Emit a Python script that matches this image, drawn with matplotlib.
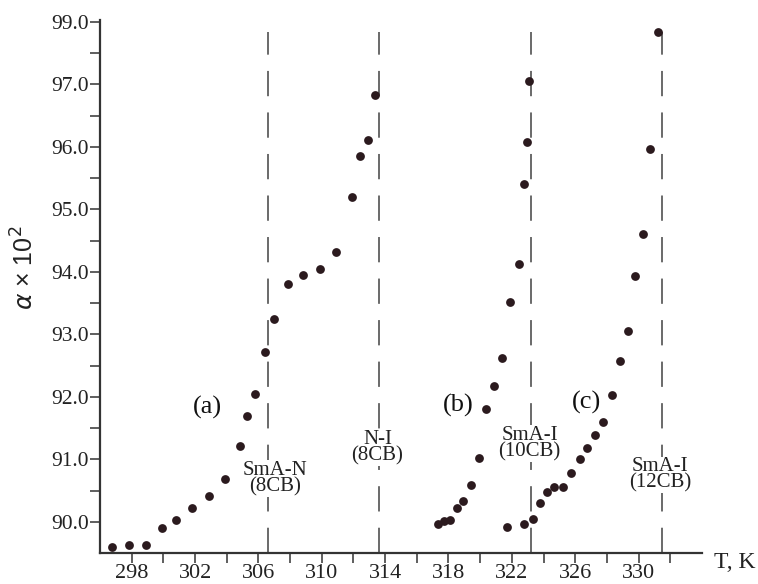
import matplotlib
matplotlib.use("Agg")
import matplotlib.pyplot as plt
import numpy as np

# ---------------- data ----------------
T_a = [296.77, 297.80, 298.89, 299.94, 300.78, 301.81, 302.89, 303.90, 304.81, 305.29,
       305.80, 306.39, 306.96, 307.89, 308.83, 309.89, 310.88, 311.92, 312.44, 312.90, 313.39]
alpha_a = [89.60, 89.63, 89.63, 89.90, 90.02, 90.22, 90.41, 90.69, 91.22, 91.69,
           92.04, 92.72, 93.25, 93.80, 93.95, 94.04, 94.32, 95.20, 95.85, 96.11, 96.83]

T_b = [317.31, 317.71, 318.07, 318.53, 318.89, 319.44, 319.92, 320.39, 320.90, 321.40,
       321.86, 322.43, 322.75, 322.96, 323.09]
alpha_b = [89.97, 90.01, 90.03, 90.22, 90.34, 90.59, 91.02, 91.81, 92.18, 92.62,
           93.51, 94.12, 95.40, 96.07, 97.06]

T_c = [321.69, 322.76, 323.34, 323.79, 324.19, 324.63, 325.24, 325.72, 326.29, 326.75,
       327.28, 327.73, 328.30, 328.82, 329.33, 329.79, 330.30, 330.70, 331.21]
alpha_c = [89.92, 89.97, 90.05, 90.30, 90.47, 90.56, 90.56, 90.78, 91.00, 91.18,
           91.39, 91.59, 92.03, 92.57, 93.05, 93.93, 94.61, 95.97, 97.84]

transition_T = [306.6, 313.6, 323.2, 331.5]
transition_labels = ["SmA-N\n(8CB)", "N-I\n(8CB)", "SmA-I\n(10CB)", "SmA-I\n(12CB)"]

series_labels = ["(a)", "(b)", "(c)"]

x_major = [298, 302, 306, 310, 314, 318, 322, 326, 330]
y_major = [90, 91, 92, 93, 94, 95, 96, 97, 98]
y_major_labels = ["90.0", "91.0", "92.0", "93.0", "94.0", "95.0", "96.0", "97.0", "99.0"]

# ---------------- plot ----------------
serif = ["Liberation Serif", "DejaVu Serif"]
plt.rcParams["font.family"] = serif

fig = plt.figure(figsize=(7.58, 5.84), dpi=100)
ax = fig.add_axes([0.132, 0.0531, 0.794, 0.9127])

xmin, xmax = 296.0, 334.0
ymin, ymax = 89.5, 98.03
ax.set_xlim(xmin, xmax)
ax.set_ylim(ymin, ymax)

mcol = "#2b1a1e"
for T, a in [(T_a, alpha_a), (T_b, alpha_b), (T_c, alpha_c)]:
    ax.scatter(T, a, s=40, color=mcol, zorder=3, linewidths=0)

# dashed transition lines
ax.vlines(transition_T, ymin, 97.83, colors="#5e5e5e", linewidth=1.3,
          linestyles=(0, (14, 9)), zorder=1)

# transition labels (with white background covering dashed line)
label_pos = [(307.06, 90.69), (313.51, 91.19), (323.13, 91.25), (331.35, 90.75)]
for (x, y), txt in zip(label_pos, transition_labels):
    ax.text(x, y, txt, ha="center", va="center", fontsize=15, linespacing=0.8,
            color="#222222", zorder=2,
            bbox=dict(facecolor="white", edgecolor="none", pad=0.5))

series_pos = [(302.76, 91.83), (318.64, 91.86), (326.73, 91.91)]
for (x, y), txt in zip(series_pos, series_labels):
    ax.text(x, y, txt, ha="center", va="center", fontsize=19, color="#111111")

# axes styling
for s in ["top", "right"]:
    ax.spines[s].set_visible(False)
for s in ["left", "bottom"]:
    ax.spines[s].set_linewidth(1.6)
    ax.spines[s].set_color("#333333")

ax.set_xticks(x_major)
ax.set_xticks(np.arange(300, 335, 4), minor=True)
ax.set_yticks(y_major)
ax.set_yticklabels(y_major_labels)
ax.set_yticks(np.arange(90.5, 98, 1.0), minor=True)
ax.tick_params(which="both", direction="out", length=7, width=1.1, color="#333333")
ax.tick_params(axis="x", which="major", labelsize=16, labelcolor="#222222", pad=1)
ax.tick_params(axis="y", which="major", labelsize=15.5, labelcolor="#222222", pad=1)

ax.text(25 / 758, 1 - 268 / 584, r"$\alpha$ × 10$^2$", transform=fig.transFigure,
        rotation=90, ha="center", va="center", fontsize=18,
        family=["Liberation Sans", "DejaVu Sans"], color="#222222")

fig.text(735 / 758, 1 - 563 / 584, "T, K", ha="center", va="center",
         fontsize=17, color="#222222")

fig.savefig("out.png", dpi=100)
